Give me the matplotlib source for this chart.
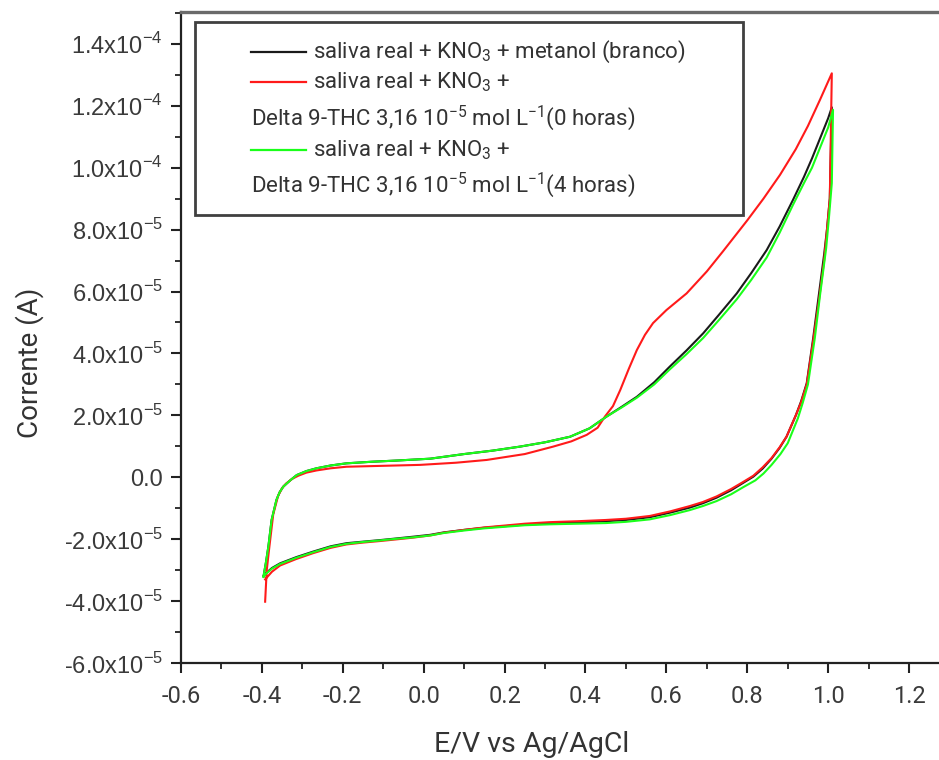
import matplotlib
matplotlib.use("Agg")
import matplotlib.pyplot as plt
from matplotlib.ticker import MultipleLocator, FixedLocator, FixedFormatter
from matplotlib.patches import Rectangle
from matplotlib.lines import Line2D

# ---------------- data (E in V, I in A) ----------------
E_branco = [-0.396, -0.390, -0.384, -0.376, -0.364, -0.356, -0.347, -0.330, -0.314, -0.290, -0.265, -0.230, -0.191,
            -0.130, -0.067, 0.016, 0.100, 0.170, 0.238, 0.300, 0.362, 0.410, 0.452, 0.490, 0.527, 0.570, 0.608,
            0.650, 0.691, 0.730, 0.774, 0.810, 0.848, 0.880, 0.913, 0.940, 0.960, 0.980, 1.000, 1.009,
            1.004, 0.997, 0.990, 0.976, 0.963, 0.947, 0.933, 0.920, 0.897, 0.880, 0.860, 0.838, 0.815, 0.790,
            0.760, 0.724, 0.690, 0.658, 0.610, 0.559, 0.500, 0.450, 0.380, 0.312, 0.250, 0.200, 0.150, 0.100,
            0.050, 0.016, -0.026, -0.070, -0.108, -0.150, -0.191, -0.230, -0.273, -0.315, -0.355, -0.375,
            -0.390, -0.396]
I_branco = [-3.20e-5, -2.75e-5, -2.24e-5, -1.38e-5, -0.73e-5, -0.48e-5, -0.30e-5, -0.10e-5, 0.07e-5, 0.20e-5,
            0.29e-5, 0.38e-5, 0.45e-5, 0.50e-5, 0.54e-5, 0.60e-5, 0.75e-5, 0.86e-5, 0.99e-5, 1.13e-5, 1.31e-5,
            1.58e-5, 1.96e-5, 2.28e-5, 2.60e-5, 3.07e-5, 3.57e-5, 4.10e-5, 4.65e-5, 5.25e-5, 5.94e-5, 6.60e-5,
            7.34e-5, 8.10e-5, 8.96e-5, 9.70e-5, 10.3e-5, 10.95e-5, 11.6e-5, 11.95e-5,
            9.0e-5, 8.0e-5, 7.2e-5, 5.8e-5, 4.5e-5, 3.04e-5, 2.45e-5, 2.0e-5, 1.31e-5, 0.95e-5, 0.60e-5,
            0.28e-5, 0.02e-5, -0.18e-5, -0.42e-5, -0.66e-5, -0.84e-5, -0.98e-5, -1.14e-5, -1.29e-5, -1.38e-5,
            -1.42e-5, -1.46e-5, -1.49e-5, -1.53e-5, -1.58e-5, -1.63e-5, -1.70e-5, -1.78e-5, -1.86e-5, -1.92e-5,
            -1.98e-5, -2.03e-5, -2.08e-5, -2.13e-5, -2.23e-5, -2.40e-5, -2.58e-5, -2.78e-5, -2.93e-5, -3.10e-5,
            -3.20e-5]

E_0h = [-0.392, -0.390, -0.388, -0.382, -0.372, -0.360, -0.350, -0.340, -0.325, -0.310, -0.290, -0.265, -0.230,
        -0.191, -0.100, -0.009, 0.080, 0.156, 0.250, 0.320, 0.365, 0.403, 0.430, 0.448, 0.468, 0.486, 0.507,
        0.527, 0.547, 0.567, 0.600, 0.650, 0.700, 0.740, 0.800, 0.840, 0.881, 0.920, 0.950, 0.980, 1.009,
        1.004, 0.997, 0.990, 0.976, 0.963, 0.947, 0.933, 0.920, 0.897, 0.880, 0.860, 0.838, 0.815, 0.790,
        0.760, 0.724, 0.690, 0.658, 0.610, 0.559, 0.500, 0.450, 0.380, 0.312, 0.250, 0.200, 0.150, 0.100,
        0.050, 0.016, -0.026, -0.070, -0.108, -0.150, -0.191, -0.230, -0.273, -0.315, -0.355, -0.375, -0.392]
I_0h = [-4.02e-5, -3.50e-5, -3.00e-5, -2.30e-5, -1.20e-5, -0.60e-5, -0.35e-5, -0.20e-5, -0.05e-5, 0.05e-5,
        0.15e-5, 0.22e-5, 0.29e-5, 0.34e-5, 0.37e-5, 0.40e-5, 0.47e-5, 0.56e-5, 0.75e-5, 0.99e-5, 1.16e-5,
        1.37e-5, 1.60e-5, 1.96e-5, 2.30e-5, 2.82e-5, 3.50e-5, 4.11e-5, 4.60e-5, 4.98e-5, 5.40e-5, 5.94e-5,
        6.65e-5, 7.30e-5, 8.30e-5, 9.00e-5, 9.77e-5, 10.6e-5, 11.35e-5, 12.2e-5, 13.05e-5,
        9.0e-5, 8.0e-5, 7.0e-5, 5.6e-5, 4.4e-5, 3.0e-5, 2.42e-5, 2.0e-5, 1.31e-5, 0.97e-5, 0.62e-5,
        0.32e-5, 0.05e-5, -0.15e-5, -0.38e-5, -0.62e-5, -0.80e-5, -0.93e-5, -1.10e-5, -1.25e-5, -1.34e-5,
        -1.38e-5, -1.42e-5, -1.45e-5, -1.50e-5, -1.56e-5, -1.62e-5, -1.70e-5, -1.79e-5, -1.88e-5, -1.95e-5,
        -2.01e-5, -2.06e-5, -2.11e-5, -2.17e-5, -2.28e-5, -2.45e-5, -2.64e-5, -2.85e-5, -3.05e-5, -3.30e-5]

E_4h = [-0.396, -0.390, -0.384, -0.376, -0.364, -0.356, -0.347, -0.330, -0.314, -0.290, -0.265, -0.230, -0.191,
        -0.130, -0.067, 0.016, 0.100, 0.170, 0.238, 0.300, 0.362, 0.410, 0.452, 0.490, 0.527, 0.570, 0.608,
        0.650, 0.691, 0.730, 0.774, 0.810, 0.848, 0.880, 0.913, 0.940, 0.960, 0.980, 1.000, 1.012,
        1.009, 1.002, 0.995, 0.980, 0.967, 0.950, 0.937, 0.925, 0.900, 0.882, 0.860, 0.840, 0.820, 0.790,
        0.760, 0.724, 0.690, 0.658, 0.610, 0.559, 0.500, 0.450, 0.380, 0.312, 0.250, 0.200, 0.150, 0.100,
        0.050, 0.016, -0.026, -0.070, -0.108, -0.150, -0.191, -0.230, -0.273, -0.315, -0.355, -0.375,
        -0.390, -0.396]
I_4h = [-3.20e-5, -2.75e-5, -2.24e-5, -1.38e-5, -0.73e-5, -0.48e-5, -0.30e-5, -0.10e-5, 0.07e-5, 0.20e-5,
        0.29e-5, 0.38e-5, 0.45e-5, 0.50e-5, 0.54e-5, 0.60e-5, 0.75e-5, 0.86e-5, 0.99e-5, 1.13e-5, 1.31e-5,
        1.58e-5, 1.96e-5, 2.26e-5, 2.57e-5, 3.00e-5, 3.48e-5, 3.98e-5, 4.50e-5, 5.08e-5, 5.75e-5, 6.38e-5,
        7.10e-5, 7.90e-5, 8.80e-5, 9.50e-5, 10.0e-5, 10.65e-5, 11.3e-5, 11.87e-5,
        9.5e-5, 8.4e-5, 7.4e-5, 5.9e-5, 4.5e-5, 3.0e-5, 2.4e-5, 1.9e-5, 1.1e-5, 0.75e-5, 0.40e-5,
        0.12e-5, -0.10e-5, -0.32e-5, -0.55e-5, -0.77e-5, -0.93e-5, -1.06e-5, -1.22e-5, -1.36e-5, -1.44e-5,
        -1.48e-5, -1.50e-5, -1.52e-5, -1.55e-5, -1.60e-5, -1.65e-5, -1.72e-5, -1.80e-5, -1.88e-5, -1.94e-5,
        -1.99e-5, -2.04e-5, -2.09e-5, -2.15e-5, -2.25e-5, -2.42e-5, -2.60e-5, -2.80e-5, -2.95e-5, -3.12e-5,
        -3.22e-5]

x_ticks = [-0.6, -0.4, -0.2, 0.0, 0.2, 0.4, 0.6, 0.8, 1.0, 1.2]
x_tick_labels = ["-0.6", "-0.4", "-0.2", "0.0", "0.2", "0.4", "0.6", "0.8", "1.0", "1.2"]
y_ticks = [-6e-5, -4e-5, -2e-5, 0.0, 2e-5, 4e-5, 6e-5, 8e-5, 1.0e-4, 1.2e-4, 1.4e-4]
y_tick_labels = [r"-6.0x10$^{\mathregular{-5}}$", r"-4.0x10$^{\mathregular{-5}}$", r"-2.0x10$^{\mathregular{-5}}$",
                 "0.0",
                 r"2.0x10$^{\mathregular{-5}}$", r"4.0x10$^{\mathregular{-5}}$", r"6.0x10$^{\mathregular{-5}}$",
                 r"8.0x10$^{\mathregular{-5}}$", r"1.0x10$^{\mathregular{-4}}$", r"1.2x10$^{\mathregular{-4}}$",
                 r"1.4x10$^{\mathregular{-4}}$"]

legend_first = [r"saliva real + KNO$_{\mathregular{3}}$ + metanol (branco)",
                r"saliva real + KNO$_{\mathregular{3}}$ +",
                r"saliva real + KNO$_{\mathregular{3}}$ +"]
legend_second = [None,
                 r"Delta 9-THC 3,16 10$^{\mathregular{-5}}$ mol L$^{\mathregular{-1}}$(0 horas)",
                 r"Delta 9-THC 3,16 10$^{\mathregular{-5}}$ mol L$^{\mathregular{-1}}$(4 horas)"]
colors = ["#1a1a1a", "#ff1a1a", "#1aff1a"]

plt.rcParams["mathtext.fontset"] = "custom"
plt.rcParams["mathtext.rm"] = "Roboto"

# ---------------- figure ----------------
W, H = 939, 760
fig = plt.figure(figsize=(W / 100, H / 100), dpi=100)
L, R, T, B = 181, 939, 12, 663
ax = fig.add_axes([L / W, 1 - B / H, (R - L) / W, (B - T) / H])

series = [(E_branco, I_branco), (E_0h, I_0h), (E_4h, I_4h)]
for (E, I), c in zip(series, colors):
    ax.plot(E, I, color=c, lw=1.5, solid_joinstyle="round")

ax.set_xlim(-0.6, 1.274)
ax.set_ylim(-6e-5, 1.503e-4)

ax.xaxis.set_major_locator(FixedLocator(x_ticks))
ax.xaxis.set_major_formatter(FixedFormatter(x_tick_labels))
ax.xaxis.set_minor_locator(MultipleLocator(0.1))
ax.yaxis.set_major_locator(FixedLocator(y_ticks))
ax.yaxis.set_major_formatter(FixedFormatter(y_tick_labels))
ax.yaxis.set_minor_locator(MultipleLocator(1e-5))

ax.spines["right"].set_visible(False)
ax.spines["left"].set_linewidth(1.6)
ax.spines["bottom"].set_linewidth(1.6)
ax.spines["left"].set_color("#222222")
ax.spines["bottom"].set_color("#222222")
ax.spines["top"].set_linewidth(2.4)
ax.spines["top"].set_color("#6a6a6a")

ax.tick_params(which="major", direction="out", length=7, width=1.5, color="#222222")
ax.tick_params(which="minor", direction="out", length=4, width=1.3, color="#222222")
ax.tick_params(top=False, right=False, which="both")
ax.tick_params(axis="y", which="major", pad=6, labelsize=17, labelcolor="#3a3a3a")
ax.tick_params(axis="x", which="major", pad=9, labelsize=17, labelcolor="#3a3a3a")
for lab in ax.get_yticklabels():
    lab.set_fontfamily("Liberation Sans")
for lab in ax.get_xticklabels():
    lab.set_fontfamily("Roboto")

fig.text(30 / W, 1 - 363 / H, "Corrente (A)", rotation=90, ha="center", va="center",
         fontsize=20, family="Roboto", color="#333333")
fig.text(532 / W, 1 - 745 / H, "E/V vs Ag/AgCl", ha="center", va="center",
         fontsize=20.5, family="Roboto", color="#333333")

# ---------------- legend (drawn manually) ----------------
bx0, bx1, by0, by1 = 195, 743, 22, 215
fig.patches.append(Rectangle((bx0 / W, 1 - by1 / H), (bx1 - bx0) / W, (by1 - by0) / H,
                             transform=fig.transFigure, fill=True, facecolor="white",
                             edgecolor="#404040", lw=2.0, zorder=5))
row_first = [52, 82, 150]
row_second = [None, 118, 185]
hx0, hx1, tx, tx2 = 251, 306, 313, 251
for c, t1, t2, y1, y2 in zip(colors, legend_first, legend_second, row_first, row_second):
    fig.add_artist(Line2D([hx0 / W, hx1 / W], [1 - y1 / H, 1 - y1 / H], transform=fig.transFigure,
                          color=c, lw=1.6, zorder=6))
    fig.text(tx / W, 1 - y1 / H, t1, ha="left", va="center", fontsize=16, family="Roboto",
             color="#333333", zorder=6)
    if t2 is not None:
        fig.text(tx2 / W, 1 - y2 / H, t2, ha="left", va="center", fontsize=16, family="Roboto",
                 color="#333333", zorder=6)

fig.savefig("out.png", dpi=100)
